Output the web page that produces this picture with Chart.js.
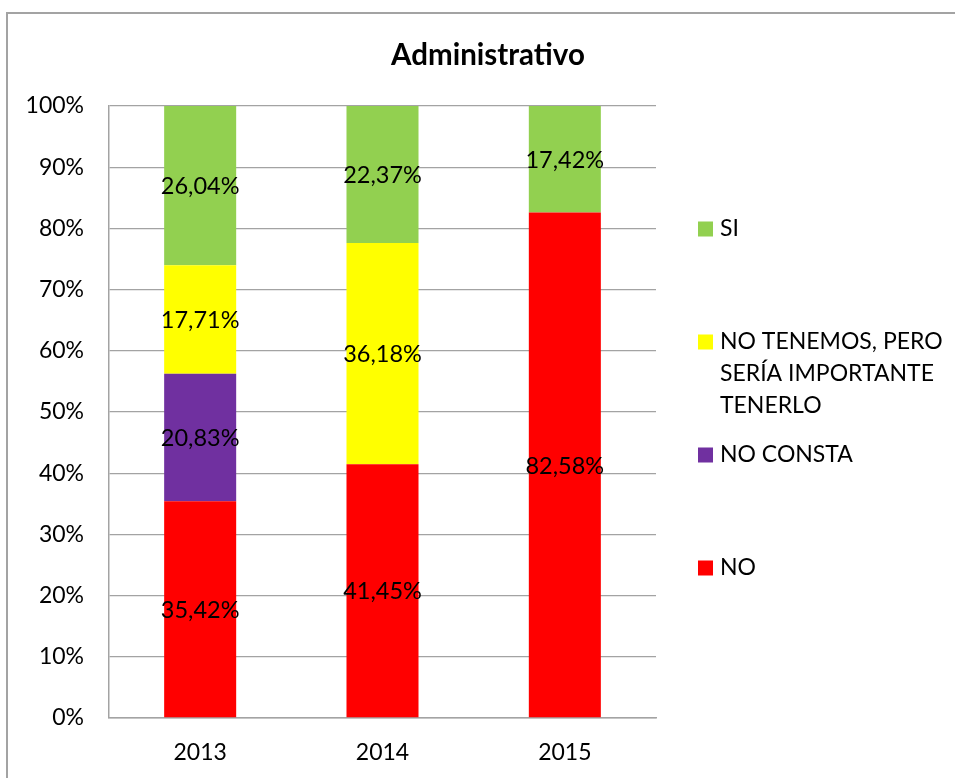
<!DOCTYPE html>
<html>
<head>
<meta charset="utf-8">
<title>Administrativo</title>
<script src="https://cdn.jsdelivr.net/npm/chart.js@4.4.1/dist/chart.umd.min.js"></script>
<style>
    html, body { margin: 0; padding: 0; background: #fff; overflow: hidden; }
    canvas { display: block; }
</style>
</head>
<body>
<canvas id="myChart" width="955" height="778"></canvas>
<script>
// Datos del grafico
const titulo = 'Administrativo'
const anios = ['2013', '2014', '2015']
const series = ['NO', 'NO CONSTA', ['NO TENEMOS, PERO', 'SERÍA IMPORTANTE', 'TENERLO'], 'SI']
const valores_no = [35.42, 41.45, 82.58]
const valores_no_consta = [20.83, 0, 0]
const valores_no_tenemos = [17.71, 36.18, 0]
const valores_si = [26.04, 22.37, 17.42]
const ticks_y = [0, 10, 20, 30, 40, 50, 60, 70, 80, 90, 100]
const colores = ['#FF0000', '#7030A0', '#FFFF00', '#92D050']

const fuente = 'Lato, "Open Sans", sans-serif'
const gris = '#a3a3a3'

function formato_porcentaje(v) {
    return v.toFixed(2).replace('.', ',') + '%'
}

// titulo, marco, etiquetas y leyenda dibujados a mano
const pluginExtras = {
    id: 'extras',
    beforeDraw(chart) {
        const ctx = chart.ctx
        ctx.save()
        ctx.strokeStyle = gris
        ctx.lineWidth = 2
        ctx.strokeRect(7, 13, 1000, 1000)
        ctx.restore()
    },
    afterDatasetsDraw(chart) {
        const ctx = chart.ctx
        ctx.save()
        ctx.fillStyle = '#000'
        ctx.font = '23.5px ' + fuente
        ctx.textAlign = 'center'
        ctx.textBaseline = 'middle'
        chart.data.datasets.forEach((ds, i) => {
            const meta = chart.getDatasetMeta(i)
            meta.data.forEach((bar, j) => {
                const v = ds.data[j]
                if (!v) return
                ctx.fillText(formato_porcentaje(v), bar.x, (bar.y + bar.base) / 2 + 1)
            })
        })
        ctx.restore()
    },
    afterDraw(chart) {
        const ctx = chart.ctx
        const area = chart.chartArea
        ctx.save()
        // titulo
        ctx.fillStyle = '#000'
        ctx.font = 'bold 29.5px ' + fuente
        ctx.textAlign = 'center'
        ctx.textBaseline = 'middle'
        ctx.fillText(titulo, 488, 55)

        // leyenda (de arriba a abajo: SI, NO TENEMOS, NO CONSTA, NO)
        ctx.font = '23px ' + fuente
        ctx.textAlign = 'left'
        const x_caja = area.right + 42
        const y_inicio = 229
        const paso = 113
        const alto_linea = 32
        const orden = [3, 2, 1, 0]
        orden.forEach((idx, k) => {
            const y = y_inicio + k * paso
            ctx.fillStyle = colores[idx]
            ctx.fillRect(x_caja, y - 7.5, 15, 15)
            ctx.fillStyle = '#000'
            const texto = chart.data.datasets[idx].label
            const lineas = Array.isArray(texto) ? texto : [texto]
            lineas.forEach((l, n) => {
                ctx.fillText(l, x_caja + 22, y + n * alto_linea)
            })
        })
        ctx.restore()
    }
}

function generar_grafico() {
    const data = {
        labels: anios,
        datasets: [
            { label: series[0], data: valores_no, backgroundColor: colores[0] },
            { label: series[1], data: valores_no_consta, backgroundColor: colores[1] },
            { label: series[2], data: valores_no_tenemos, backgroundColor: colores[2] },
            { label: series[3], data: valores_si, backgroundColor: colores[3] }
        ]
    }

    const config = {
        type: 'bar',
        data: data,
        options: {
            responsive: false,
            animation: false,
            devicePixelRatio: 1,
            datasets: {
                bar: { categoryPercentage: 1, barPercentage: 0.395, borderWidth: 0 }
            },
            layout: {
                padding: { top: 106, right: 299, bottom: 0, left: 0 }
            },
            plugins: {
                legend: { display: false },
                title: { display: false },
                tooltip: { enabled: false }
            },
            scales: {
                x: {
                    stacked: true,
                    grid: { display: false, drawTicks: false },
                    border: { display: true, color: gris, width: 1.5 },
                    ticks: { color: '#000', font: { family: fuente, size: 23 }, padding: 21 },
                    afterFit: s => { s.height = 60 }
                },
                y: {
                    stacked: true,
                    min: 0,
                    max: 100,
                    afterBuildTicks: s => { s.ticks = ticks_y.map(v => ({ value: v })) },
                    grid: { color: gris, lineWidth: 1.3, drawTicks: false },
                    border: { display: true, color: gris, width: 1.5 },
                    ticks: {
                        color: '#000',
                        font: { family: fuente, size: 23 },
                        padding: 25,
                        callback: v => v + '%'
                    },
                    afterFit: s => { s.width = 109 }
                }
            }
        },
        plugins: [pluginExtras]
    }

    new Chart(document.getElementById('myChart'), config)
}

generar_grafico()
</script>
</body>
</html>
